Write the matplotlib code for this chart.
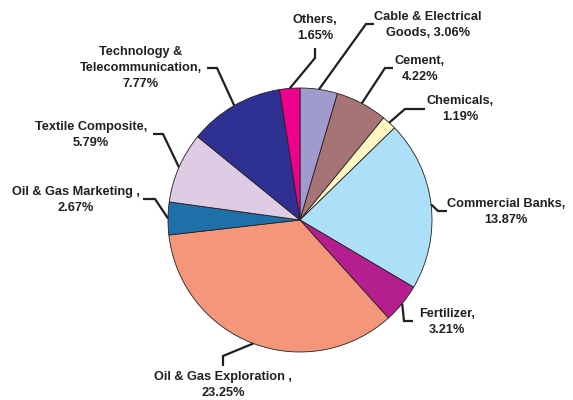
import matplotlib.pyplot as plt
import numpy as np

plt.rcParams['font.family'] = ['Liberation Sans', 'DejaVu Sans']

sectors = ["Cable & Electrical\nGoods", "Cement", "Chemicals", "Commercial Banks",
           "Fertilizer", "Oil & Gas Exploration ", "Oil & Gas Marketing ",
           "Textile Composite", "Technology &\nTelecommunication", "Others"]
shares = [3.06, 4.22, 1.19, 13.87, 3.21, 23.25, 2.67, 5.79, 7.77, 1.65]
colors = ["#9f9bcc", "#a67474", "#fff6c2", "#ace0f8", "#b41e8e",
          "#f4967a", "#1f6fa8", "#ddcce4", "#2e3192", "#ec008c"]
# separator between name and value
seps = [" ", "\n", "\n", "\n", "\n", "\n", "\n", "\n", "\n", "\n"]

# label layout in image pixels (y down): text centre, elbow, end of leader
text_pos = [(428, 25), (420, 69), (460, 109), (506, 212), (447, 322),
            (223, 385), (76, 200), (91, 135), (141, 68), (315, 28)]
elbows = [(366, 24), (385, 68), (405, 109), (438, 211), (404, 321),
          (223, 356), (155, 199), (163, 134), (217, 68), (315, 58)]
ends = [(374, 24), (393, 68), (425, 109), (447, 211), (413, 321),
        (223, 366), (143, 199), (153, 134), (207, 68), (315, 48)]

W, H = 573, 400
cx, cy, R = 300, H - 220, 132

fig = plt.figure(figsize=(W / 100, H / 100), dpi=100)
ax = fig.add_axes([0, 0, 1, 1])

wedges, _ = ax.pie(shares, colors=colors, startangle=90, counterclock=False,
                   center=(cx, cy), radius=R,
                   wedgeprops=dict(edgecolor='#231f20', linewidth=0.6))
ax.set_xlim(0, W)
ax.set_ylim(0, H)
ax.set_aspect('equal')
ax.axis('off')

for w, name, sep, val, tp, el, en in zip(wedges, sectors, seps, shares, text_pos, elbows, ends):
    mid = np.deg2rad((w.theta1 + w.theta2) / 2)
    ax_x = cx + R * np.cos(mid)
    ax_y = cy + R * np.sin(mid)
    ax.plot([ax_x, el[0], en[0]], [ax_y, H - el[1], H - en[1]],
            color='#231f20', lw=1.6, solid_capstyle='butt', solid_joinstyle='miter')
    ax.text(tp[0], H - tp[1], f"{name},{sep}{val:.2f}%", ha='center', va='center',
            ma='center', fontsize=9.2, fontweight='bold', color='#231f20',
            linespacing=1.42)

fig.savefig("out.png", dpi=100)
